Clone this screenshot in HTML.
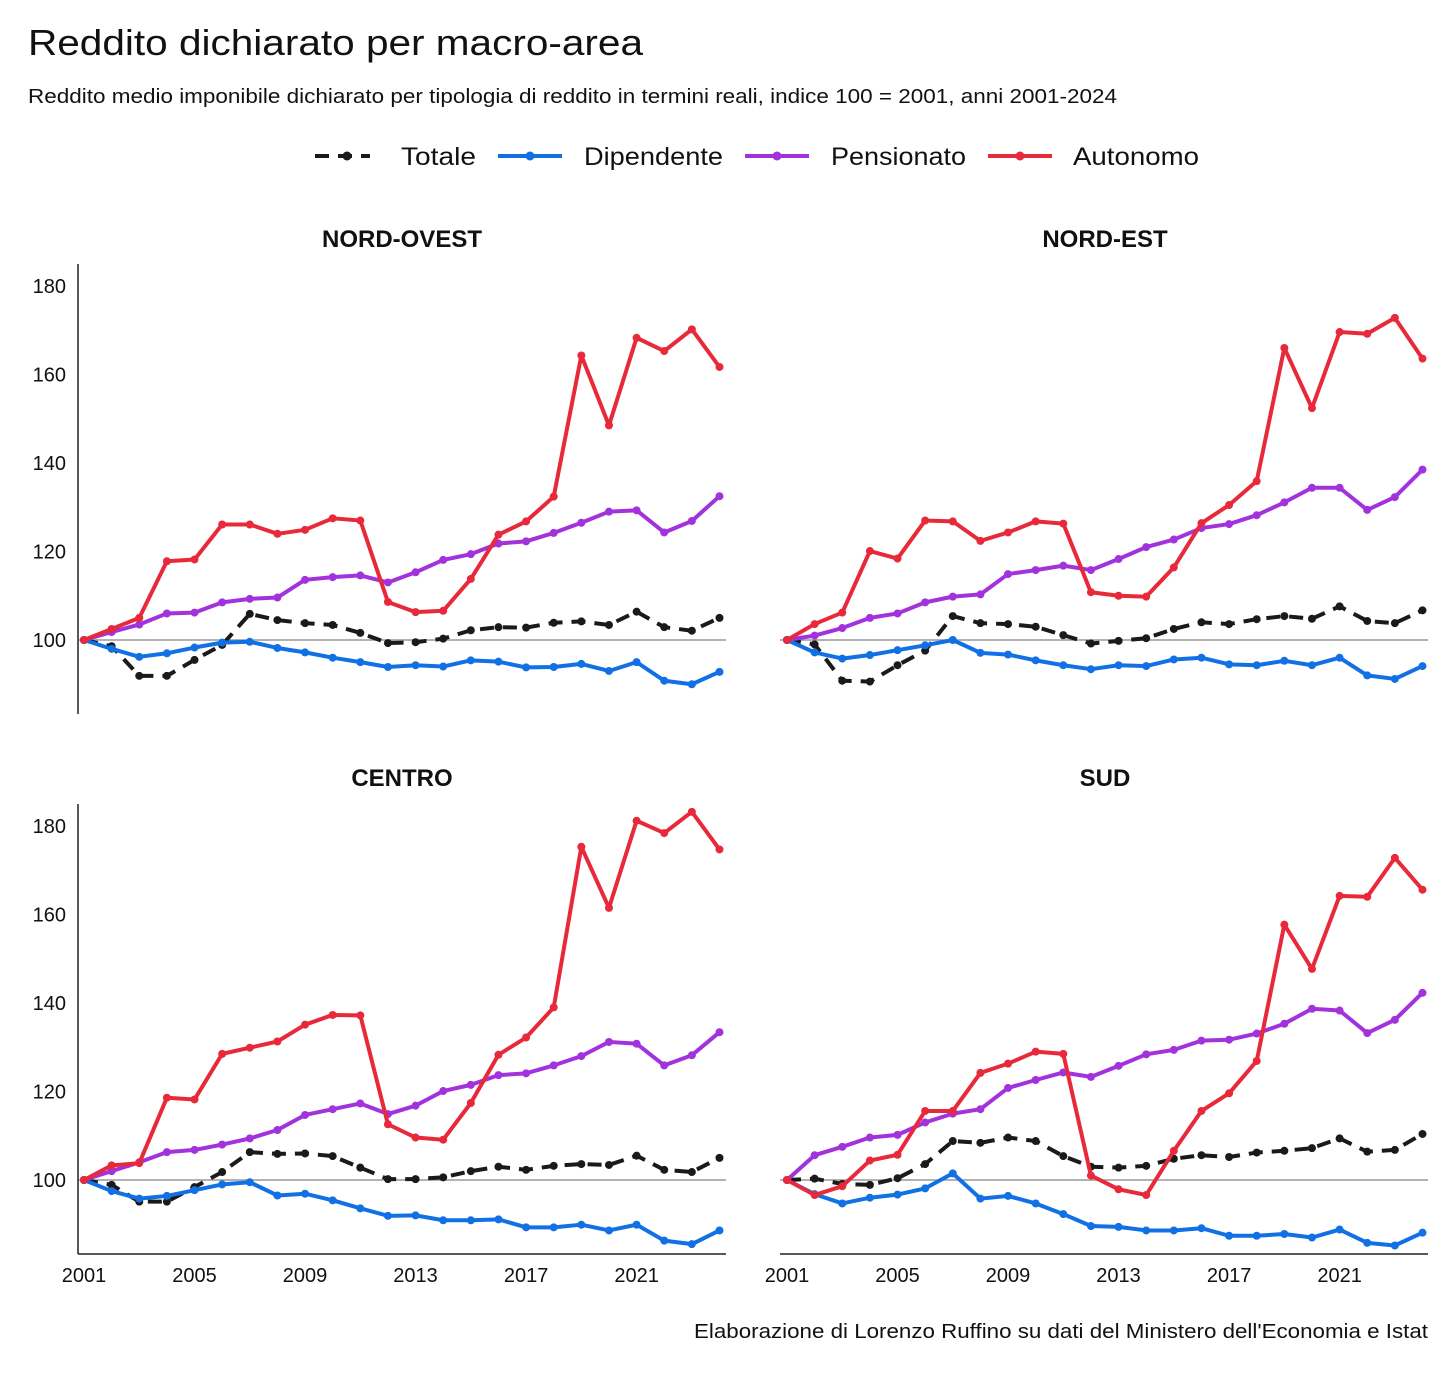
<!DOCTYPE html>
<html><head><meta charset="utf-8"><style>
body{margin:0;background:#fff}
svg text{font-family:"Liberation Sans",sans-serif;fill:#111}
</style></head><body>
<svg id="chart" width="1456" height="1370" xmlns="http://www.w3.org/2000/svg">
<text x="28" y="55" font-size="36" textLength="615" lengthAdjust="spacingAndGlyphs">Reddito dichiarato per macro-area</text>
<text x="28" y="103" font-size="20" textLength="1089" lengthAdjust="spacingAndGlyphs">Reddito medio imponibile dichiarato per tipologia di reddito in termini reali, indice 100 = 2001, anni 2001-2024</text>
<g id="legend"></g>
<g id="panels"></g>
<text x="1428" y="1338" font-size="20" text-anchor="end" textLength="734" lengthAdjust="spacingAndGlyphs">Elaborazione di Lorenzo Ruffino su dati del Ministero dell'Economia e Istat</text>
</svg>
<script>
const years=[2001,2002,2003,2004,2005,2006,2007,2008,2009,2010,2011,2012,2013,2014,2015,2016,2017,2018,2019,2020,2021,2022,2023,2024];
const yTicks=[100,120,140,160,180];
const xTicks=[2001,2005,2009,2013,2017,2021];
const seriesNames=["Totale","Dipendente","Pensionato","Autonomo"];
const regionNames=["NORD-OVEST","NORD-EST","CENTRO","SUD"];
const noTotale=[100,98.6,91.9,91.9,95.5,98.9,105.9,104.5,103.8,103.4,101.6,99.3,99.5,100.3,102.2,102.9,102.8,103.9,104.2,103.4,106.4,102.9,102.1,105];
const noDip=[100,98,96.2,97,98.3,99.4,99.6,98.2,97.2,96,95,93.9,94.3,94,95.4,95.1,93.8,93.9,94.6,93,95,90.8,90,92.8];
const noPen=[100,101.8,103.5,106,106.2,108.5,109.3,109.6,113.6,114.2,114.6,113,115.3,118.1,119.4,121.8,122.3,124.2,126.5,129,129.3,124.3,126.9,132.5];
const noAut=[100,102.5,105,117.8,118.2,126.1,126.1,124,124.9,127.5,127,108.6,106.3,106.6,113.8,123.8,126.8,132.4,164.3,148.5,168.3,165.3,170.2,161.7];
const neTotale=[100,99,90.8,90.6,94.3,97.6,105.4,103.8,103.6,103,101.1,99.2,99.8,100.4,102.5,104,103.6,104.7,105.4,104.8,107.6,104.3,103.8,106.7];
const neDip=[100,97.2,95.8,96.6,97.7,98.8,100,97.1,96.7,95.4,94.3,93.4,94.3,94.1,95.6,96,94.5,94.3,95.3,94.3,96,92,91.2,94.1];
const nePen=[100,101,102.7,105,106,108.5,109.8,110.3,114.9,115.8,116.8,115.8,118.3,121,122.7,125.3,126.2,128.2,131.1,134.4,134.4,129.4,132.3,138.5];
const neAut=[100,103.6,106.2,120.1,118.4,127,126.8,122.4,124.3,126.8,126.3,110.8,110,109.8,116.4,126.4,130.5,135.9,166,152.4,169.6,169.2,172.8,163.6];
const ceTotale=[100,98.9,95.1,95.1,98.4,101.8,106.3,105.9,106,105.4,102.8,100.2,100.2,100.6,102,103,102.3,103.2,103.6,103.4,105.5,102.3,101.8,105];
const ceDip=[100,97.5,95.8,96.4,97.7,99,99.5,96.5,96.9,95.4,93.6,91.9,92,90.9,90.9,91.1,89.3,89.3,89.9,88.6,89.9,86.3,85.5,88.6];
const cePen=[100,102,104,106.3,106.8,108,109.4,111.3,114.7,116,117.3,114.9,116.8,120.1,121.5,123.7,124.1,125.9,128,131.2,130.8,125.9,128.2,133.4];
const ceAut=[100,103.3,103.8,118.6,118.2,128.5,129.9,131.3,135.1,137.3,137.2,112.6,109.6,109.1,117.4,128.3,132.2,139,175.3,161.5,181.2,178.4,183.2,174.7];
const suTotale=[100,100.3,99.1,98.9,100.4,103.6,108.8,108.4,109.6,108.8,105.4,103,102.8,103.2,104.8,105.6,105.2,106.2,106.6,107.2,109.4,106.4,106.8,110.4];
const suDip=[100,96.8,94.7,96,96.7,98.1,101.5,95.8,96.4,94.7,92.3,89.6,89.4,88.6,88.6,89.1,87.4,87.4,87.8,87,88.8,85.8,85.2,88.1];
const suPen=[100,105.6,107.5,109.6,110.2,113,115,116,120.8,122.6,124.3,123.3,125.8,128.4,129.4,131.5,131.7,133.1,135.3,138.7,138.3,133.2,136.2,142.3];
const suAut=[100,96.6,98.6,104.4,105.7,115.6,115.6,124.2,126.3,129,128.5,101,97.9,96.6,106.6,115.6,119.6,126.9,157.7,147.7,164.2,164,172.8,165.6];

const NS="http://www.w3.org/2000/svg";
const colors=["#1a1a1a","#1170e4","#a132dc","#e8293a"];
const dash=["14 9",null,null,null];
const data=[[noTotale,noDip,noPen,noAut],[neTotale,neDip,nePen,neAut],[ceTotale,ceDip,cePen,ceAut],[suTotale,suDip,suPen,suAut]];
function mk(tag,attrs,parent){const e=document.createElementNS(NS,tag);for(const k in attrs)e.setAttribute(k,attrs[k]);parent.appendChild(e);return e;}
const svg=document.getElementById('chart');
// legend
const leg=document.getElementById('legend');
const legX=[315,498,745,988], legTx=[401,584,831,1073], legW=[75,139,135,126];
seriesNames.forEach((n,i)=>{
  const g=mk('g',{},leg);
  
  
  const l=mk('line',{x1:legX[i],x2:legX[i]+(i?64:55),y1:156,y2:156,stroke:colors[i],'stroke-width':4},g);
  if(dash[i])l.setAttribute('stroke-dasharray','14 9');
  mk('circle',{cx:legX[i]+(i?32:32),cy:156,r:4.5,fill:colors[i]},g);
  const t=mk('text',{x:legTx[i],y:165,'font-size':25,textLength:legW[i],lengthAdjust:'spacingAndGlyphs'},g);
  t.textContent=n;
});
const panels=document.getElementById('panels');
const geo=[{x0:84,y100:640,axisX:78,yTop:264,yBot:714,showY:true,showX:false,tx:402,ty:247},
{x0:787,y100:640,axisX:780,yTop:264,yBot:714,showY:false,showX:false,tx:1105,ty:247},
{x0:84,y100:1180,axisX:78,yTop:804,yBot:1254,showY:true,showX:true,tx:402,ty:786},
{x0:787,y100:1180,axisX:780,yTop:804,yBot:1254,showY:false,showX:true,tx:1105,ty:786}];
const pxYear=27.63, pxUnit=4.425;
geo.forEach((g,p)=>{
  const pg=mk('g',{},panels);
  
  
  const xs=y=>g.x0+(y-2001)*pxYear;
  const ys=v=>g.y100-(v-100)*pxUnit;
  const t=mk('text',{x:g.tx,y:g.ty,'font-size':24,'font-weight':'bold','text-anchor':'middle'},pg);
  
  
  t.textContent=regionNames[p];
  mk('line',{x1:g.axisX,x2:g.axisX+648,y1:ys(100),y2:ys(100),stroke:'#999','stroke-width':1.5},pg);
  if(g.showY){
    mk('line',{x1:g.axisX,x2:g.axisX,y1:g.yTop,y2:g.yBot,stroke:'#222','stroke-width':1.5},pg);
    yTicks.forEach(v=>{const tt=mk('text',{x:66,y:ys(v)+7,'font-size':20,'text-anchor':'end'},pg);
      
      
      tt.textContent=v;});
  }
  if(g.showX){
    mk('line',{x1:g.axisX,x2:g.axisX+648,y1:g.yBot,y2:g.yBot,stroke:'#222','stroke-width':1.5},pg);
    xTicks.forEach(v=>{const tt=mk('text',{x:xs(v),y:1282,'font-size':20,'text-anchor':'middle'},pg);
      
      
      tt.textContent=v;});
  }
  data[p].forEach((arr,s)=>{
    const sg=mk('g',{},pg);
    
    
    const pts=arr.map((v,i)=>xs(years[i])+','+ys(v)).join(' ');
    const pl=mk('polyline',{points:pts,fill:'none',stroke:colors[s],'stroke-width':4,'stroke-linejoin':'round'},sg);
    if(dash[s])pl.setAttribute('stroke-dasharray',dash[s]);
    arr.forEach((v,i)=>{const c=mk('circle',{cx:xs(years[i]),cy:ys(v),r:4,fill:colors[s]},sg);
      
      });
  });
});
</script>
</body></html>
